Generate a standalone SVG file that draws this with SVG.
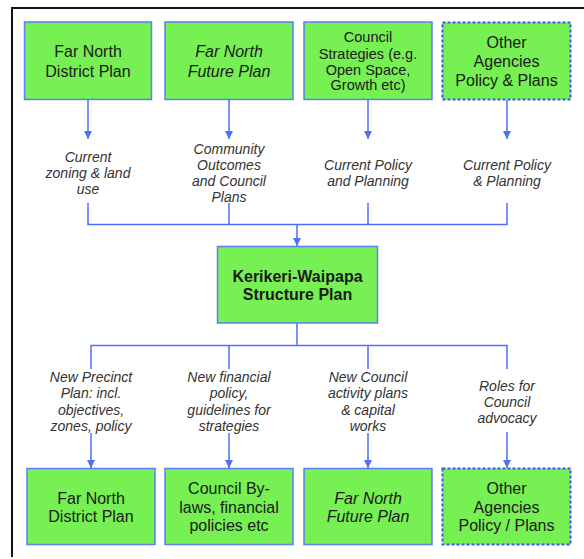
<svg xmlns="http://www.w3.org/2000/svg" width="584" height="559" viewBox="0 0 584 559">
<defs>
<marker id="ah" markerUnits="userSpaceOnUse" markerWidth="9" markerHeight="9" refX="8" refY="4" orient="auto">
<path d="M0,0 L8,4 L0,8 z" fill="#4F6EFA"/>
</marker>
<style>
.box{fill:#76F052;stroke:#5C7DF8;stroke-width:1.5}
.dbox{fill:#76F052;stroke:#3558F0;stroke-width:2;stroke-dasharray:3,2}
.bt{font-family:"Liberation Sans",Arial,sans-serif;font-size:16px;fill:#1a1a1a;text-anchor:middle}
.st{font-size:14.5px}
.it{font-style:italic}
.bd{font-weight:bold}
.lb{font-family:"Liberation Sans",Arial,sans-serif;font-size:14px;font-style:italic;fill:#333;text-anchor:middle}
.cn{fill:none;stroke:#4F6EFA;stroke-width:1.5}
</style>
</defs>
<rect width="584" height="559" fill="#fff"/>
<path d="M12,557 V8 H584" fill="none" stroke="#111" stroke-width="2"/>

<g id="connectors">
<path class="cn" d="M88,100 V139" marker-end="url(#ah)"/>
<path class="cn" d="M229,100 V139" marker-end="url(#ah)"/>
<path class="cn" d="M368,100 V139" marker-end="url(#ah)"/>
<path class="cn" d="M507,100 V139" marker-end="url(#ah)"/>
<path class="cn" d="M88,203 V224.5 H507 V203 M229,203 V224.5 M368,203 V224.5"/>
<path class="cn" d="M297,224.5 V246" marker-end="url(#ah)"/>
<path class="cn" d="M297,323 V345.5 M91,369 V345.5 H507 V369 M229,345.5 V369 M368,345.5 V369"/>
<path class="cn" d="M91,433 V468" marker-end="url(#ah)"/>
<path class="cn" d="M229,433 V468" marker-end="url(#ah)"/>
<path class="cn" d="M368,433 V468" marker-end="url(#ah)"/>
<path class="cn" d="M507,432 V468" marker-end="url(#ah)"/>
</g>

<g id="n1">
<rect class="box" x="24.5" y="22" width="127" height="77.5"/>
<text class="bt" x="88" y="57">Far North</text>
<text class="bt" x="88" y="76.5">District Plan</text>
</g>
<g id="n2">
<rect class="box" x="165" y="22" width="128" height="77.5"/>
<text class="bt it" x="229" y="57">Far North</text>
<text class="bt it" x="229" y="76.5">Future Plan</text>
</g>
<g id="n3">
<rect class="box" x="304" y="22" width="128" height="77.5"/>
<text class="bt st" x="368" y="42">Council</text>
<text class="bt st" x="368" y="58.5">Strategies (e.g.</text>
<text class="bt st" x="368" y="74.5">Open Space,</text>
<text class="bt st" x="368" y="90">Growth etc)</text>
</g>
<g id="n4">
<rect class="dbox" x="442.5" y="22.5" width="128" height="77"/>
<text class="bt" x="506.5" y="48">Other</text>
<text class="bt" x="506.5" y="67">Agencies</text>
<text class="bt" x="506.5" y="85.5">Policy &amp; Plans</text>
</g>

<g id="l1">
<text class="lb" x="88" y="162">Current</text>
<text class="lb" x="88" y="178">zoning &amp; land</text>
<text class="lb" x="88" y="194">use</text>
</g>
<g id="l2">
<text class="lb" x="229" y="154">Community</text>
<text class="lb" x="229" y="170">Outcomes</text>
<text class="lb" x="229" y="186">and Council</text>
<text class="lb" x="229" y="202">Plans</text>
</g>
<g id="l3">
<text class="lb" x="368" y="170">Current Policy</text>
<text class="lb" x="368" y="186">and Planning</text>
</g>
<g id="l4">
<text class="lb" x="507" y="170">Current Policy</text>
<text class="lb" x="507" y="186">&amp; Planning</text>
</g>

<g id="center">
<rect class="box" x="217.5" y="246.5" width="160" height="76.5"/>
<text class="bt bd" x="297.5" y="281.5">Kerikeri-Waipapa</text>
<text class="bt bd" x="297.5" y="300">Structure Plan</text>
</g>

<g id="l5">
<text class="lb" x="91" y="382">New Precinct</text>
<text class="lb" x="91" y="398">Plan: incl.</text>
<text class="lb" x="91" y="414.5">objectives,</text>
<text class="lb" x="91" y="431">zones, policy</text>
</g>
<g id="l6">
<text class="lb" x="229" y="382">New financial</text>
<text class="lb" x="229" y="398">policy,</text>
<text class="lb" x="229" y="414.5">guidelines for</text>
<text class="lb" x="229" y="431">strategies</text>
</g>
<g id="l7">
<text class="lb" x="368" y="382">New Council</text>
<text class="lb" x="368" y="398">activity plans</text>
<text class="lb" x="368" y="414.5">&amp; capital</text>
<text class="lb" x="368" y="431">works</text>
</g>
<g id="l8">
<text class="lb" x="507" y="391">Roles for</text>
<text class="lb" x="507" y="407">Council</text>
<text class="lb" x="507" y="423">advocacy</text>
</g>

<g id="n5">
<rect class="box" x="27" y="468.5" width="128" height="76"/>
<text class="bt" x="91" y="504">Far North</text>
<text class="bt" x="91" y="521.5">District Plan</text>
</g>
<g id="n6">
<rect class="box" x="165" y="468.5" width="128" height="76"/>
<text class="bt" x="229" y="493.5">Council By-</text>
<text class="bt" x="229" y="512.5">laws, financial</text>
<text class="bt" x="229" y="530.5">policies etc</text>
</g>
<g id="n7">
<rect class="box" x="304" y="468.5" width="128" height="76"/>
<text class="bt it" x="368" y="504">Far North</text>
<text class="bt it" x="368" y="521.5">Future Plan</text>
</g>
<g id="n8">
<rect class="dbox" x="442.5" y="468.5" width="128" height="76"/>
<text class="bt" x="506.5" y="494">Other</text>
<text class="bt" x="506.5" y="512.5">Agencies</text>
<text class="bt" x="506.5" y="531">Policy / Plans</text>
</g>
</svg>
